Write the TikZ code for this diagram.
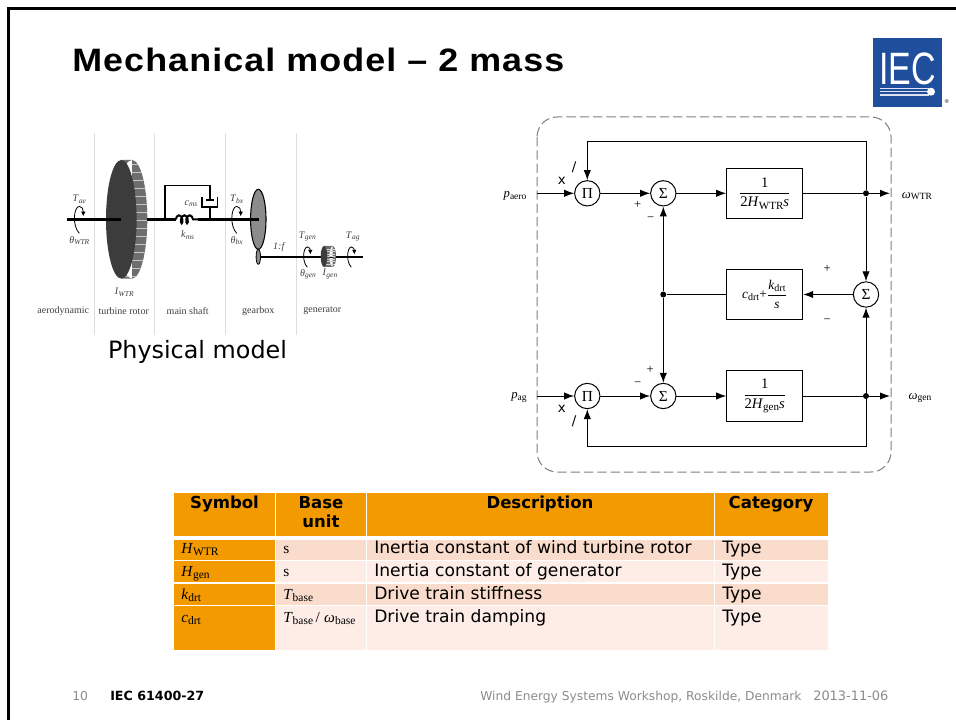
\documentclass[tikz,border=0pt]{standalone}
\usepackage{amsmath}
\usepackage{fontspec}
\setmainfont{Liberation Serif}
\newfontfamily\bodyfont{DejaVu Sans}
\newfontfamily\headfont{Liberation Sans}
\usetikzlibrary{arrows.meta}
\usetikzlibrary{decorations.pathmorphing}
\definecolor{hdrorange}{HTML}{F39A00}
\definecolor{rowdark}{HTML}{F9DCCB}
\definecolor{rowlight}{HTML}{FDEDE6}
\definecolor{iecblue}{HTML}{1F4F9C}
\definecolor{rimgray}{HTML}{6E6E6E}
\definecolor{discdark}{HTML}{3C3C3C}
\definecolor{footgray}{HTML}{8C8C8C}
\newcommand{\lowr}[1]{\raisebox{-0.3ex}{\scalebox{0.75}{#1}}}
\newcommand{\symb}[2]{\textit{#1}\lowr{#2}}
\newcommand{\symi}[2]{\textit{#1}\lowr{\textit{#2}}}
\newcommand{\fsz}[1]{\fontsize{#1}{#1}\selectfont}
\tikzset{
	block/.style={draw,line width=0.75pt,inner sep=0pt,fill=white},
	opnode/.style={draw,circle,line width=0.75pt,fill=white,minimum size=19pt,inner sep=0pt,font=\fsz{11.5}},
	dotnode/.style={circle,fill=black,minimum size=4.5pt,inner sep=0pt},
	flow/.style={line width=0.75pt,-{Latex[length=7.5pt,width=5.5pt]}},
	wire/.style={line width=0.75pt},
	lbl/.style={inner sep=0pt,font=\fsz{9.5}},
	phys/.style={inner sep=0pt,font=\fsz{7.5},text=black!75},
	cell/.style={inner sep=0pt,anchor=base west,font=\bodyfont\fsz{12.85}},
	mathcell/.style={inner sep=0pt,anchor=base west,font=\fsz{11.5}},
	hdr/.style={inner sep=0pt,anchor=base,font=\bodyfont\bfseries\fsz{12.4}},
	foot/.style={inner sep=0pt,anchor=base west,font=\bodyfont\fsz{9.2},text=footgray},
	shaft/.style={line width=2.2pt,black},
	thinshaft/.style={line width=1.6pt,black},
	sep/.style={gray!25,line width=0.7pt},
	torque/.pic={
		\draw[line width=0.6pt,-{Latex[length=3.5pt,width=3.5pt]}] (0,14) .. controls (-7,7) and (-6,-12) .. (0,-13) .. controls (3,-13) and (4,-10) .. (4,-3);
	},
}
\begin{document}
\begin{tikzpicture}[x=0.75pt,y=-0.75pt]
	\useasboundingbox (0,0) rectangle (956,720);
	\fill[white] (0,0) rectangle (956,720);
	\draw[line width=2.2pt] (8.5,720) -- (8.5,8.5) -- (956,8.5);
	\node[inner sep=0pt,anchor=base west,font=\headfont\bfseries\fsz{24.3}] (title) at (72,71.7) {\scalebox{1.107}[1]{\addfontfeature{LetterSpace=3}Mechanical model – 2 mass}};
	% logo
	\fill[iecblue] (872.7,37.7) rectangle (942,106.7);
	\node[inner sep=0pt,anchor=base,text=white,font=\headfont\fsz{34}] (logotext) at (907.5,85) {\scalebox{0.75}[1]{IEC}};
	\draw[white!85!iecblue,line width=0.9pt] (880,88.3) -- (929,88.3);
	\draw[white!85!iecblue,line width=0.9pt] (880,91.7) -- (929,91.7);
	\draw[white!85!iecblue,line width=0.9pt] (880,95) -- (929,95);
	\fill[white] (931,91.7) circle (3pt);
	\fill[gray!70] (946.7,101) circle (1.5pt);
	% physical model
	\draw[sep] (94,133) -- (94,335);
	\draw[sep] (154,133) -- (154,335);
	\draw[sep] (225.3,133) -- (225.3,335);
	\draw[sep] (296.3,133) -- (296.3,335);
	\begin{scope}
		\clip (132,219.3) ellipse (15.3 and 59.3) (121.3,160) rectangle (132,278.7);
		\fill[rimgray] (110,155) rectangle (150,285);
		\foreach \yy in {164,172,...,276}
			\draw[gray!45,line width=0.5pt] (118,\yy) -- (150,\yy);
	\end{scope}
	\fill[discdark] (121.3,219.3) ellipse (15.3 and 59.3);
	\draw[shaft] (67.3,219.3) -- (120.7,219.3);
	\draw[shaft] (147.3,219.3) -- (175.7,219.3);
	\draw[shaft] (198.3,219.3) -- (258.7,219.3);
	\draw[line width=1.5pt,decorate,decoration={coil,aspect=0.5,segment length=4pt,amplitude=3pt}] (175.7,219.3) -- (198.3,219.3);
	\draw[line width=1.2pt] (164.7,219.3) -- (164.7,185.7) -- (210,185.7) -- (210,200);
	\draw[line width=2pt] (206,200) -- (214,200);
	\draw[line width=1.2pt] (201.7,197.3) -- (201.7,207.3) -- (217.3,207.3) -- (217.3,197.3);
	\draw[line width=1.2pt] (210,207.3) -- (210,219.3);
	\draw[fill=gray!90,line width=0.8pt] (258.3,219.3) ellipse (7.7 and 30);
	\draw[shaft] (225.3,219.3) -- (258.7,219.3);
	\draw[fill=gray!90,line width=0.6pt] (258.3,256.8) ellipse (2.2 and 7.5);
	\draw[thinshaft] (260.5,256.7) -- (362.7,256.7);
	\fill[rimgray] (324,246) rectangle (332.7,267) (332.7,256.5) ellipse (3.3 and 10.5);
	\foreach \yy in {249,251.5,...,265}
		\draw[gray!35,line width=0.25pt] (326,\yy) -- (335,\yy);
	\fill[discdark] (324,256.5) ellipse (3.3 and 10.5);
	\pic at (79.3,219.3) {torque};
	\pic at (236.7,219.3) {torque};
	\pic[scale=0.75] at (307.3,256.7) {torque};
	\pic[scale=0.75] at (351.3,256.7) {torque};
	\node[phys] (tae) at (79.3,199.3) {\symi{T}{ae}};
	\node[phys] (thwtr) at (79.3,240.7) {\symi{θ}{WTR}};
	\node[phys] (tbx) at (236.7,199.3) {\symi{T}{bx}};
	\node[phys] (thbx) at (236.7,240.7) {\symi{θ}{bx}};
	\node[phys] (cms) at (191,203.7) {\symi{c}{ms}};
	\node[phys] (kms) at (187.7,235) {\symi{k}{ms}};
	\node[phys] (iwtr) at (124.3,292.3) {\symi{I}{WTR}};
	\node[phys] (ratio) at (279.3,246.7) {\textit{1:f}};
	\node[phys] (tgen) at (307.3,236.7) {\symi{T}{gen}};
	\node[phys] (thgen) at (308,274) {\symi{θ}{gen}};
	\node[phys] (igen) at (330,274) {\symi{I}{gen}};
	\node[phys] (tag) at (352.7,236.7) {\symi{T}{ag}};
	\node[phys] (aero) at (63.3,310.7) {aerodynamic};
	\node[phys] (rotor) at (123.7,310.7) {turbine rotor};
	\node[phys] (mainsh) at (187.7,310.7) {main shaft};
	\node[phys] (gearb) at (258.3,310.7) {gearbox};
	\node[phys] (genr) at (322.3,310.7) {generator};
	\node[inner sep=0pt,anchor=base,font=\bodyfont\fsz{17.9}] (physlbl) at (197.5,358) {Physical model};
	% block diagram
	\draw[gray,line width=0.75pt,dash pattern=on 7pt off 3pt,rounded corners=15pt] (537,117) rectangle (891,472);
	\node[opnode] (pitop) at (587.3,193.3) {Π};
	\node[opnode] (sumtop) at (663.3,193.3) {Σ};
	\node[block,minimum width=57pt,minimum height=37.7pt] (boxwtr) at (764.7,193.3) {\fsz{11}$\dfrac{\mbox{1}}{\mbox{2\textit{H}\lowr{WTR}\textit{s}}}$};
	\node[dotnode] (dottop) at (866,193.3) {};
	\coordinate (inaero) at (537,193.3);
	\coordinate (outwtr) at (890,193.3);
	\coordinate (looptop) at (866,142);
	\node[opnode] (pibot) at (587.3,396) {Π};
	\node[opnode] (sumbot) at (663.3,396) {Σ};
	\node[block,minimum width=57pt,minimum height=37.7pt] (boxgen) at (764.7,396) {\fsz{11}$\dfrac{\mbox{1}}{\mbox{2\textit{H}\lowr{gen}\textit{s}}}$};
	\node[dotnode] (dotbot) at (866,396) {};
	\coordinate (inag) at (537,396);
	\coordinate (outgen) at (890,396);
	\coordinate (loopbot) at (866,446);
	\node[block,minimum width=57pt,minimum height=37.7pt] (boxdrt) at (764.7,294.5) {\fsz{10}\symb{c}{drt}+$\dfrac{\mbox{\symb{k}{drt}}}{\mbox{\textit{s}}}$};
	\node[opnode] (sumdrt) at (866,294.5) {Σ};
	\node[dotnode] (dotmid) at (663.3,294.5) {};
	\draw[flow] (inaero) -- (pitop);
	\draw[flow] (pitop) -- (sumtop);
	\draw[flow] (sumtop) -- (boxwtr);
	\draw[wire] (boxwtr) -- (dottop);
	\draw[flow] (dottop) -- (outwtr);
	\draw[flow] (dottop) -- (looptop) -| (pitop);
	\draw[flow] (dottop) -- (sumdrt);
	\draw[flow] (inag) -- (pibot);
	\draw[flow] (pibot) -- (sumbot);
	\draw[flow] (sumbot) -- (boxgen);
	\draw[wire] (boxgen) -- (dotbot);
	\draw[flow] (dotbot) -- (outgen);
	\draw[flow] (dotbot) -- (loopbot) -| (pibot);
	\draw[flow] (dotbot) -- (sumdrt);
	\draw[flow] (sumdrt) -- (boxdrt);
	\draw[wire] (boxdrt) -- (dotmid);
	\draw[flow] (dotmid) -- (sumtop);
	\draw[flow] (dotmid) -- (sumbot);
	\node[lbl] (paero) at (515,196) {\symb{p}{aero}};
	\node[lbl] (pag) at (519,397.3) {\symb{p}{ag}};
	\node[lbl] (owtr) at (917,196) {\symb{ω}{WTR}};
	\node[lbl] (ogen) at (920,398) {\symb{ω}{gen}};
	\node[lbl,font=\bodyfont\fsz{10}] (xtop) at (561.7,181) {x};
	\node[lbl,font=\bodyfont\fsz{10}] (divtop) at (574,167.3) {/};
	\node[lbl,font=\bodyfont\fsz{10}] (xbot) at (561.7,409.3) {x};
	\node[lbl,font=\bodyfont\fsz{10}] (divbot) at (574,421.7) {/};
	\node[lbl] (plusa) at (637.7,205) {+};
	\node[lbl] (minusa) at (650.7,219.3) {−};
	\node[lbl] (plusb) at (827.3,269.3) {+};
	\node[lbl] (minusb) at (827.3,321) {−};
	\node[lbl] (plusc) at (650.3,370) {+};
	\node[lbl] (minusc) at (637.7,384) {−};
	% table
	\fill[hdrorange] (174.4,493) rectangle (274.5,536);
	\fill[hdrorange] (276,493) rectangle (365.7,536);
	\fill[hdrorange] (367.3,493) rectangle (713.5,536);
	\fill[hdrorange] (715,493) rectangle (827.5,536);
	\foreach \ya/\yb/\rowcol in {539.5/559.5/rowdark,561/582/rowlight,584/604.5/rowdark,606/650/rowlight} {
		\fill[hdrorange] (174.4,\ya) rectangle (274.5,\yb);
		\fill[\rowcol] (276,\ya) rectangle (365.7,\yb);
		\fill[\rowcol] (367.3,\ya) rectangle (713.5,\yb);
		\fill[\rowcol] (715,\ya) rectangle (827.5,\yb);
	}
	\node[hdr] (hsym) at (224.5,508) {Symbol};
	\node[hdr] (hbase) at (321,508) {Base};
	\node[hdr] (hunit) at (321,527) {unit};
	\node[hdr] (hdesc) at (540,508) {Description};
	\node[hdr] (hcat) at (771,508) {Category};
	\node[mathcell] (sa) at (181,553) {\symb{H}{WTR}};
	\node[mathcell] (ua) at (283,553) {s};
	\node[cell] (da) at (374,553) {Inertia constant of wind turbine rotor};
	\node[cell] (ta) at (722,553) {Type};
	\node[mathcell] (sb) at (181,576) {\symb{H}{gen}};
	\node[mathcell] (ub) at (283,576) {s};
	\node[cell] (db) at (374,576) {Inertia constant of generator};
	\node[cell] (tb) at (722,576) {Type};
	\node[mathcell] (sc) at (181,599) {\symb{k}{drt}};
	\node[mathcell] (uc) at (283,599) {\symb{T}{base}};
	\node[cell] (dc) at (374,599) {Drive train stiffness};
	\node[cell] (tc) at (722,599) {Type};
	\node[mathcell] (sd) at (181,622) {\symb{c}{drt}};
	\node[mathcell] (ud) at (283,622) {\symb{T}{base}\,/\;\symb{ω}{base}};
	\node[cell] (dd) at (374,622) {Drive train damping};
	\node[cell] (td) at (722,622) {Type};
	% footer
	\node[foot] (pageno) at (72,700) {10};
	\node[foot,text=black,font=\bodyfont\bfseries\fsz{9.5}] (stdno) at (110,700) {IEC 61400-27};
	\node[foot] (venue) at (480,700) {Wind Energy Systems Workshop, Roskilde, Denmark};
	\node[foot,font=\bodyfont\fsz{9.7}] (datelbl) at (813,700) {2013-11-06};
\end{tikzpicture}
\end{document}
